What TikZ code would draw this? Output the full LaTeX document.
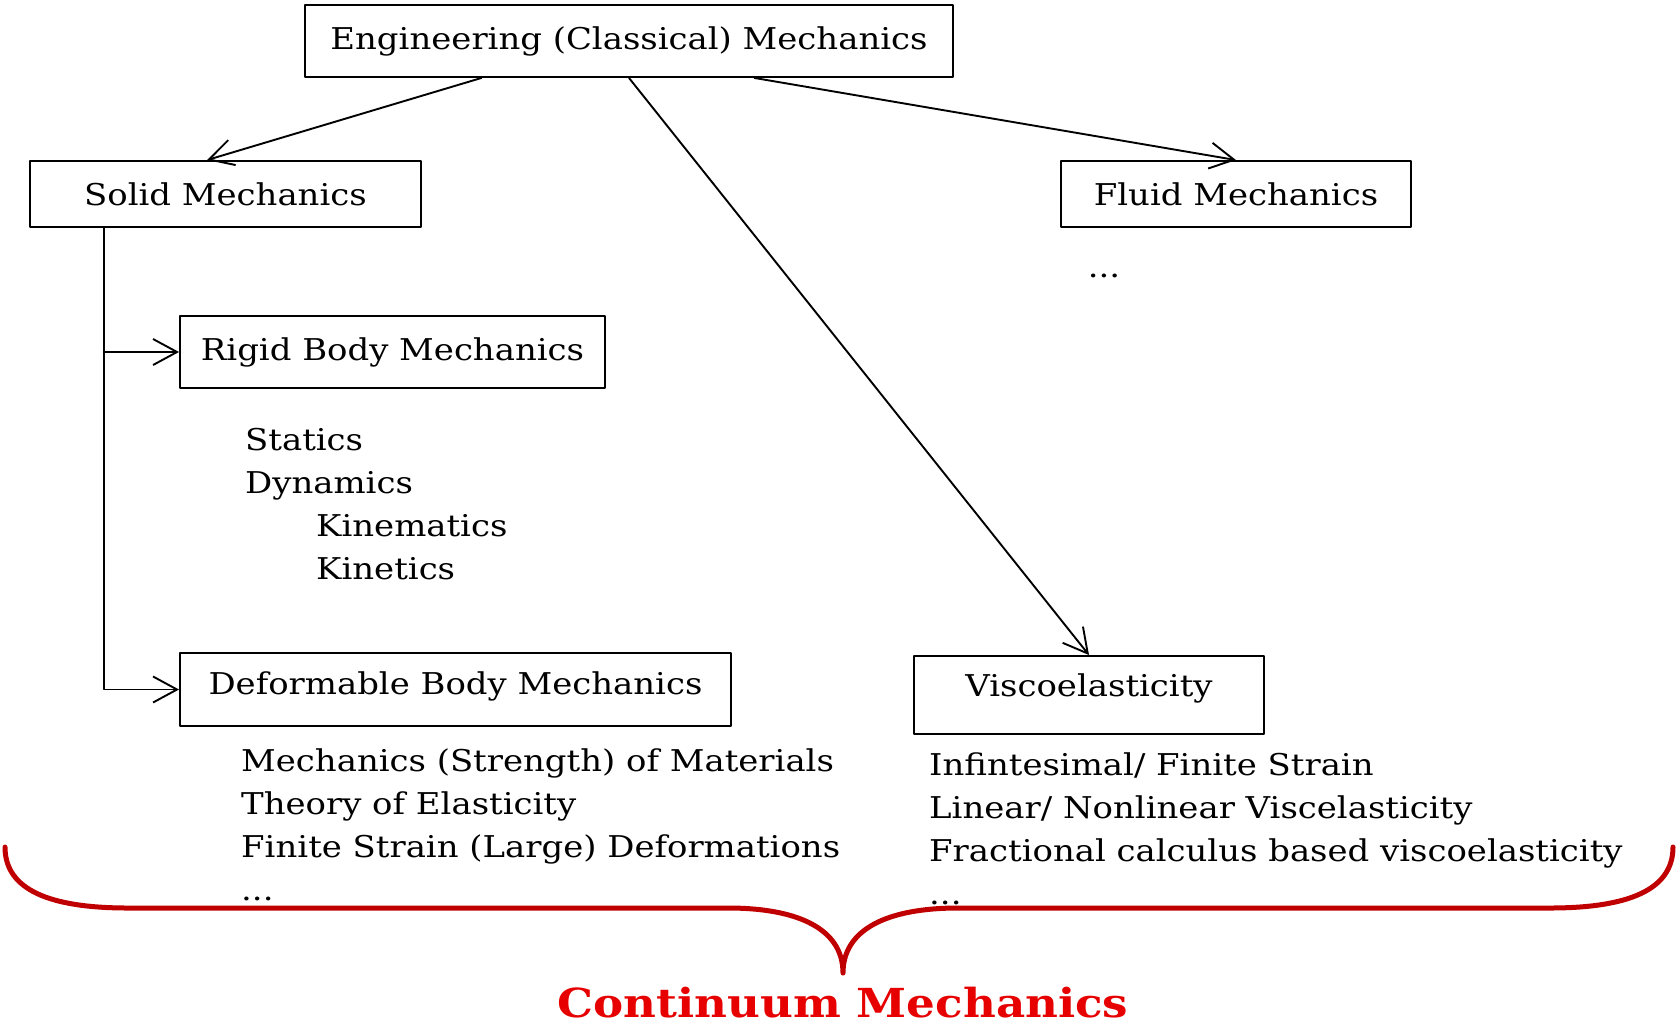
\documentclass[tikz,border=0pt]{standalone}
\usepackage{fontspec}
\setmainfont{DejaVu Serif}[FakeStretch=1.13]
\usetikzlibrary{arrows.meta,positioning,calc}
\definecolor{ink}{HTML}{000000}
\definecolor{bracecol}{HTML}{C00000}
\definecolor{titlecol}{HTML}{E60000}

\begin{document}
\begin{tikzpicture}[
  x=1pt, y=-1pt, line cap=round, line join=round,
  txt/.style={font=\fontsize{30}{43}\selectfont, inner sep=0pt},
  box/.style={draw=ink, line width=1.9pt, txt},
  lst/.style={txt, anchor=base west, align=left},
  fl/.style={-{Straight Barb[length=24pt,width=26pt,line width=1.9pt]}, ink, line width=1.9pt}]

\useasboundingbox (0,0) rectangle (1678,1026);

% ================================================================ boxes
\node[box, minimum width=648pt, minimum height=72pt] (eng) at (629,41)
  {Engineering (Classical) Mechanics};
\node[box, minimum width=391pt, minimum height=66pt] (solid) at (225.5,194) {Solid Mechanics};
\node[box, minimum width=350pt, minimum height=66pt] (fluid) at (1236,194) {Fluid Mechanics};
\node[txt] (fdots) at (1104,276) {...};

\node[box, minimum width=425pt, minimum height=72pt] (rigid) at (392.5,352) {Rigid Body Mechanics};
\node[box, minimum width=551pt, minimum height=73pt, text depth=12pt] (defm) at (455.5,689.5)
  {Deformable Body Mechanics};
\node[box, minimum width=350pt, minimum height=78pt, text depth=19pt] (visco) at (1089,695)
  {Viscoelasticity};

% ================================================================ lists (anchored on the last line)
\node[lst] (rlist) at (245,579)
  {Statics\\ Dynamics\\ \hspace*{71pt}Kinematics\\ \hspace*{71pt}Kinetics};
\node[lst] (dlist) at (241,900)
  {Mechanics (Strength) of Materials\\ Theory of Elasticity\\
   Finite Strain (Large) Deformations\\ ...};
\node[lst] (vlist) at (929,904)
  {Infintesimal/ Finite Strain\\ Linear/ Nonlinear Viscelasticity\\
   Fractional calculus based viscoelasticity\\ ...};

% ================================================================ connectors
\draw[fl] ($(eng.south west)!.273!(eng.south east)$) -- ($(solid.north west)!.453!(solid.north east)$);
\draw[fl] (eng.south) -- (visco.north);
\draw[fl] ($(eng.south west)!.693!(eng.south east)$) -- (fluid.north);

\coordinate (trunk) at ($(solid.south west)!.19!(solid.south east)$);
\draw[fl] (trunk) |- (defm.west);
\draw[fl] (trunk |- rigid.west) -- (rigid.west);

% ================================================================ brace
\draw[bracecol, line width=5pt]
  (5,847) .. controls (5,890) and (50,908) .. (128,908) -- (728,908)
  .. controls (800,908) and (843,930) .. (843,973)
  .. controls (843,930) and (886,908) .. (958,908) -- (1550,908)
  .. controls (1628,908) and (1673,890) .. (1673,847);
\node[font=\fontsize{40}{48}\selectfont\bfseries, titlecol, inner sep=0pt] (cm) at (843,1003)
  {Continuum Mechanics};

\end{tikzpicture}
\end{document}
